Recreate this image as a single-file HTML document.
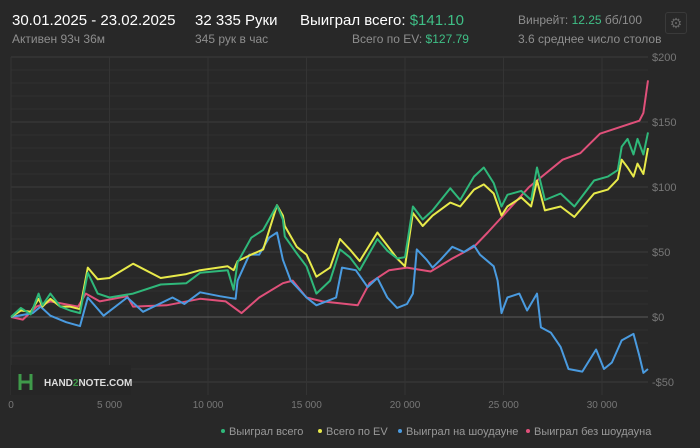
<!DOCTYPE html>
<html><head><meta charset="utf-8">
<style>
body{margin:0;background:#1c1c1c;font-family:"Liberation Sans","Noto Sans CJK SC",sans-serif;}
#wrap{position:relative;width:700px;height:448px;background:#282828;overflow:hidden;}
.t{position:absolute;white-space:nowrap;}
.big{color:#fff;font-size:15px;}
.sm{color:#8e8e8e;font-size:12px;}
.g{color:#3fbf86;}
</style></head><body>
<div id="wrap">
<div class="t big" style="left:12px;top:12px">30.01.2025 - 23.02.2025</div>
<div class="t sm" style="left:12px;top:32px">Активен 93ч 36м</div>
<div class="t big" style="left:195px;top:12px">32 335 Руки</div>
<div class="t sm" style="left:195px;top:32px">345 рук в час</div>
<div class="t big" style="left:300px;top:12px">Выиграл всего: <span class="g">$141.10</span></div>
<div class="t sm" style="left:352px;top:32px">Всего по EV: <span class="g">$127.79</span></div>
<div class="t sm" style="left:518px;top:13px">Винрейт: <span class="g">12.25</span> бб/100</div>
<div class="t sm" style="left:518px;top:32px">3.6 среднее число столов</div>
<div class="t" style="left:665px;top:12px;width:20px;height:20px;border:1px solid #3a3a3a;border-radius:3px;color:#666;font-size:14px;text-align:center;line-height:20px">⚙</div>
<svg id="chart" width="700" height="448" style="position:absolute;left:0;top:0"></svg>
</div>
<script>
// hands in thousands
const gyHands=[0,.5,1,1.4,1.6,2,2.5,3,3.5,3.9,4.4,5,6.2,7.6,8.9,9.6,11,11.3,11.5,12.2,12.8,13.5,13.8,13.9,14.5,15,15.5,16.2,16.7,17.2,17.7,18.6,19.1,19.6,20,20.4,20.9,21.4,22.3,22.8,23.5,24,24.5,24.9,25.2,25.9,26.4,26.7,27.1,27.9,28.6,29.6,30.3,30.8,31,31.3,31.6,31.8,32.1,32.335];
const green=[0,7,2,18,9,18,8,5,3,34,18,15,18,25,26,34,36,21,42,61,67,86,75,62,49,39,18,28,52,46,36,60,51,45,46,85,75,82,99,90,108,115,103,85,94,97,90,115,90,95,85,105,108,113,131,137,125,137,125,142];
const yellow=[0,5,4,14,8,14,8,8,6,38,29,30,41,30,33,36,39,36,43,48,52,86,78,70,54,48,31,38,60,52,43,65,55,45,39,80,70,78,88,85,98,102,95,78,85,92,85,105,82,85,77,95,98,106,121,115,108,118,110,130];
const blueHands=[0,1.1,1.5,2,2.8,3.5,3.9,4.3,4.7,5.9,6.7,8.2,8.8,9.6,10.6,11.4,11.5,12.1,12.6,13.1,13.5,13.8,14.2,15,15.5,16,16.5,16.8,17.5,18.1,18.6,19.1,19.6,20.1,20.4,20.6,21.1,21.4,21.8,22.4,23,23.5,23.8,24.5,24.7,24.9,25.2,25.8,26.2,26.7,26.9,27.4,27.9,28.3,29,29.7,30.1,30.5,31,31.6,31.9,32.1,32.335];
const blue=[0,3,8,1,-4,-7,15,8,1,15,4,15,10,19,16,14,28,48,48,61,65,44,28,15,9,12,15,38,36,23,30,15,7,10,18,52,44,38,44,54,50,55,48,39,28,3,15,18,5,18,-8,-12,-23,-40,-42,-25,-40,-35,-18,-13,-30,-43,-40];
const pinkHands=[0,.6,1.3,2,3.4,3.8,4.5,5.9,6.2,7.9,9.6,10.9,11.7,12.6,13.8,14.3,15,15.8,17.6,18.2,19.2,20.1,21.3,22.4,23.5,24.2,24.8,26.3,28,28.9,29.9,30.9,31.9,32.1,32.335];
const pink=[0,-2,8,12,8,18,12,16,8,9,14,12,3,15,26,28,15,12,9,26,36,38,35,45,54,65,75,100,121,126,141,146,151,157,182];
const yTicks=[-50,0,50,100,150,200];
const xTicks=[0,5000,10000,15000,20000,25000,30000];
const totalHands=32335;
const X=h=>11+h*(637/totalHands), Y=v=>317-v*1.3;
const svg=document.getElementById('chart'),NS='http://www.w3.org/2000/svg';
function mk(tag,attrs){const e=document.createElementNS(NS,tag);for(const k in attrs)e.setAttribute(k,attrs[k]);svg.appendChild(e);return e;}
const plotTop=57,plotBot=395;
for(let v=-50;v<=200;v+=10){const l=mk('line',{x1:11,x2:648,y1:Y(v),y2:Y(v),stroke:v%50===0?'#3d3d3d':'#2f2f2f','stroke-width':1});

}
xTicks.forEach(h=>{const l=mk('line',{x1:X(h),x2:X(h),y1:plotTop,y2:plotBot,stroke:'#343434'});


const t=mk('text',{x:X(h),y:408,fill:'#777','font-size':10,'text-anchor':'middle'});t.textContent=h===0?'0':(h/1000)+' 000';

});
mk('line',{x1:11,x2:648,y1:Y(0),y2:Y(0),stroke:'#5a5a5a'});
yTicks.forEach(v=>{const t=mk('text',{x:652,y:Y(v)+4,fill:'#777','font-size':11});t.textContent=(v<0?'-$':'$')+Math.abs(v);

});
mk('rect',{x:11,y:365,width:120,height:30,fill:'#262626'});
mk('path',{d:'M20 374v16M31 374v16M20 382h11',stroke:'#3f9a4a','stroke-width':3,fill:'none'});
const lt=mk('text',{x:44,y:386,fill:'#ddd','font-size':10,'font-weight':'bold'});lt.innerHTML='HAND<tspan fill="#3f9a4a">2</tspan>NOTE.COM';


function line(hands,arr,col,name){const d=arr.map((v,i)=>(i?'L':'M')+X(hands[i]*1000).toFixed(1)+' '+Y(v).toFixed(1)).join('');
const p=mk('path',{d:d,stroke:col,'stroke-width':2,fill:'none','stroke-linejoin':'round'});

}
line(pinkHands,pink,'#e0507a','series-no-showdown');
line(blueHands,blue,'#4a9be0','series-showdown');
line(gyHands,yellow,'#e8ea4a','series-ev');
line(gyHands,green,'#2fb87a','series-total');
const leg=[['Выиграл всего','#2fb87a',220],['Всего по EV','#e8ea4a',317],['Выиграл на шоудауне','#4a9be0',397],['Выиграл без шоудауна','#e0507a',525]];
leg.forEach(([txt,c,x])=>{mk('circle',{cx:x+3,cy:431,r:2,fill:c});const t=mk('text',{x:x+9,y:435,fill:'#999','font-size':11});t.textContent=txt;

});
</script>
</body></html>
